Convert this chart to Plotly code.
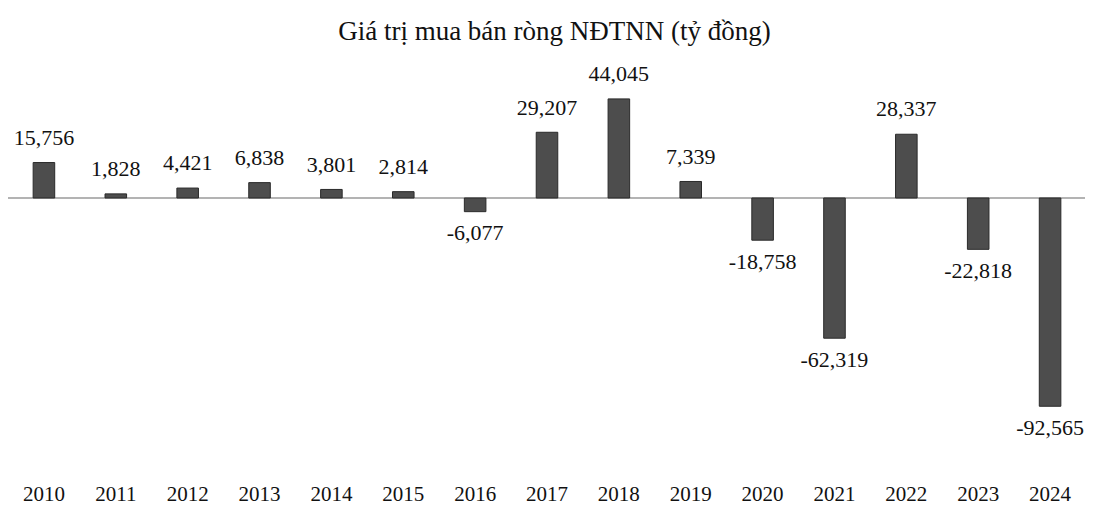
import plotly.graph_objects as go

# Net foreign investor buy/sell value, billion VND
years = ["2010", "2011", "2012", "2013", "2014", "2015", "2016", "2017",
         "2018", "2019", "2020", "2021", "2022", "2023", "2024"]
net_values = [15756, 1828, 4421, 6838, 3801, 2814, -6077, 29207,
              44045, 7339, -18758, -62319, 28337, -22818, -92565]

labels = [f"{v:,}" for v in net_values]
label_pos = ["top center" if v >= 0 else "bottom center" for v in net_values]

fig = go.Figure()

fig.add_trace(go.Bar(
    x=years,
    y=net_values,
    width=0.3,
    marker=dict(color="#4d4d4d", line=dict(color="#2a2a2a", width=1)),
    hoverinfo="x+y",
))

# value labels above / below each bar
fig.add_trace(go.Scatter(
    x=years,
    y=net_values,
    mode="markers+text",
    marker=dict(size=18, opacity=0),
    text=labels,
    textposition=label_pos,
    textfont=dict(family="Liberation Serif", size=22, color="#111111"),
    cliponaxis=False,
    hoverinfo="skip",
))

fig.update_layout(
    title=dict(
        text="Giá trị mua bán ròng NĐTNN (tỷ đồng)",
        x=0.5, xanchor="center", y=0.956, yanchor="middle",
        font=dict(family="Liberation Serif", size=27, color="#111111"),
    ),
    width=1093,
    height=505,
    margin=dict(l=0, r=15, t=55, b=34),
    plot_bgcolor="white",
    paper_bgcolor="white",
    showlegend=False,
    font=dict(family="Liberation Serif", size=19, color="#111111"),
    xaxis=dict(range=[-0.5, 14.5], showgrid=False, showline=False, ticks="",
               tickfont=dict(size=21), automargin=False),
    yaxis=dict(range=[-124900, 60000], visible=False, showgrid=False,
               zeroline=False, automargin=False),
)

fig.add_hline(y=0, line=dict(color="#9a9a9a", width=1.5), layer="below")

fig.write_html("out.html")
